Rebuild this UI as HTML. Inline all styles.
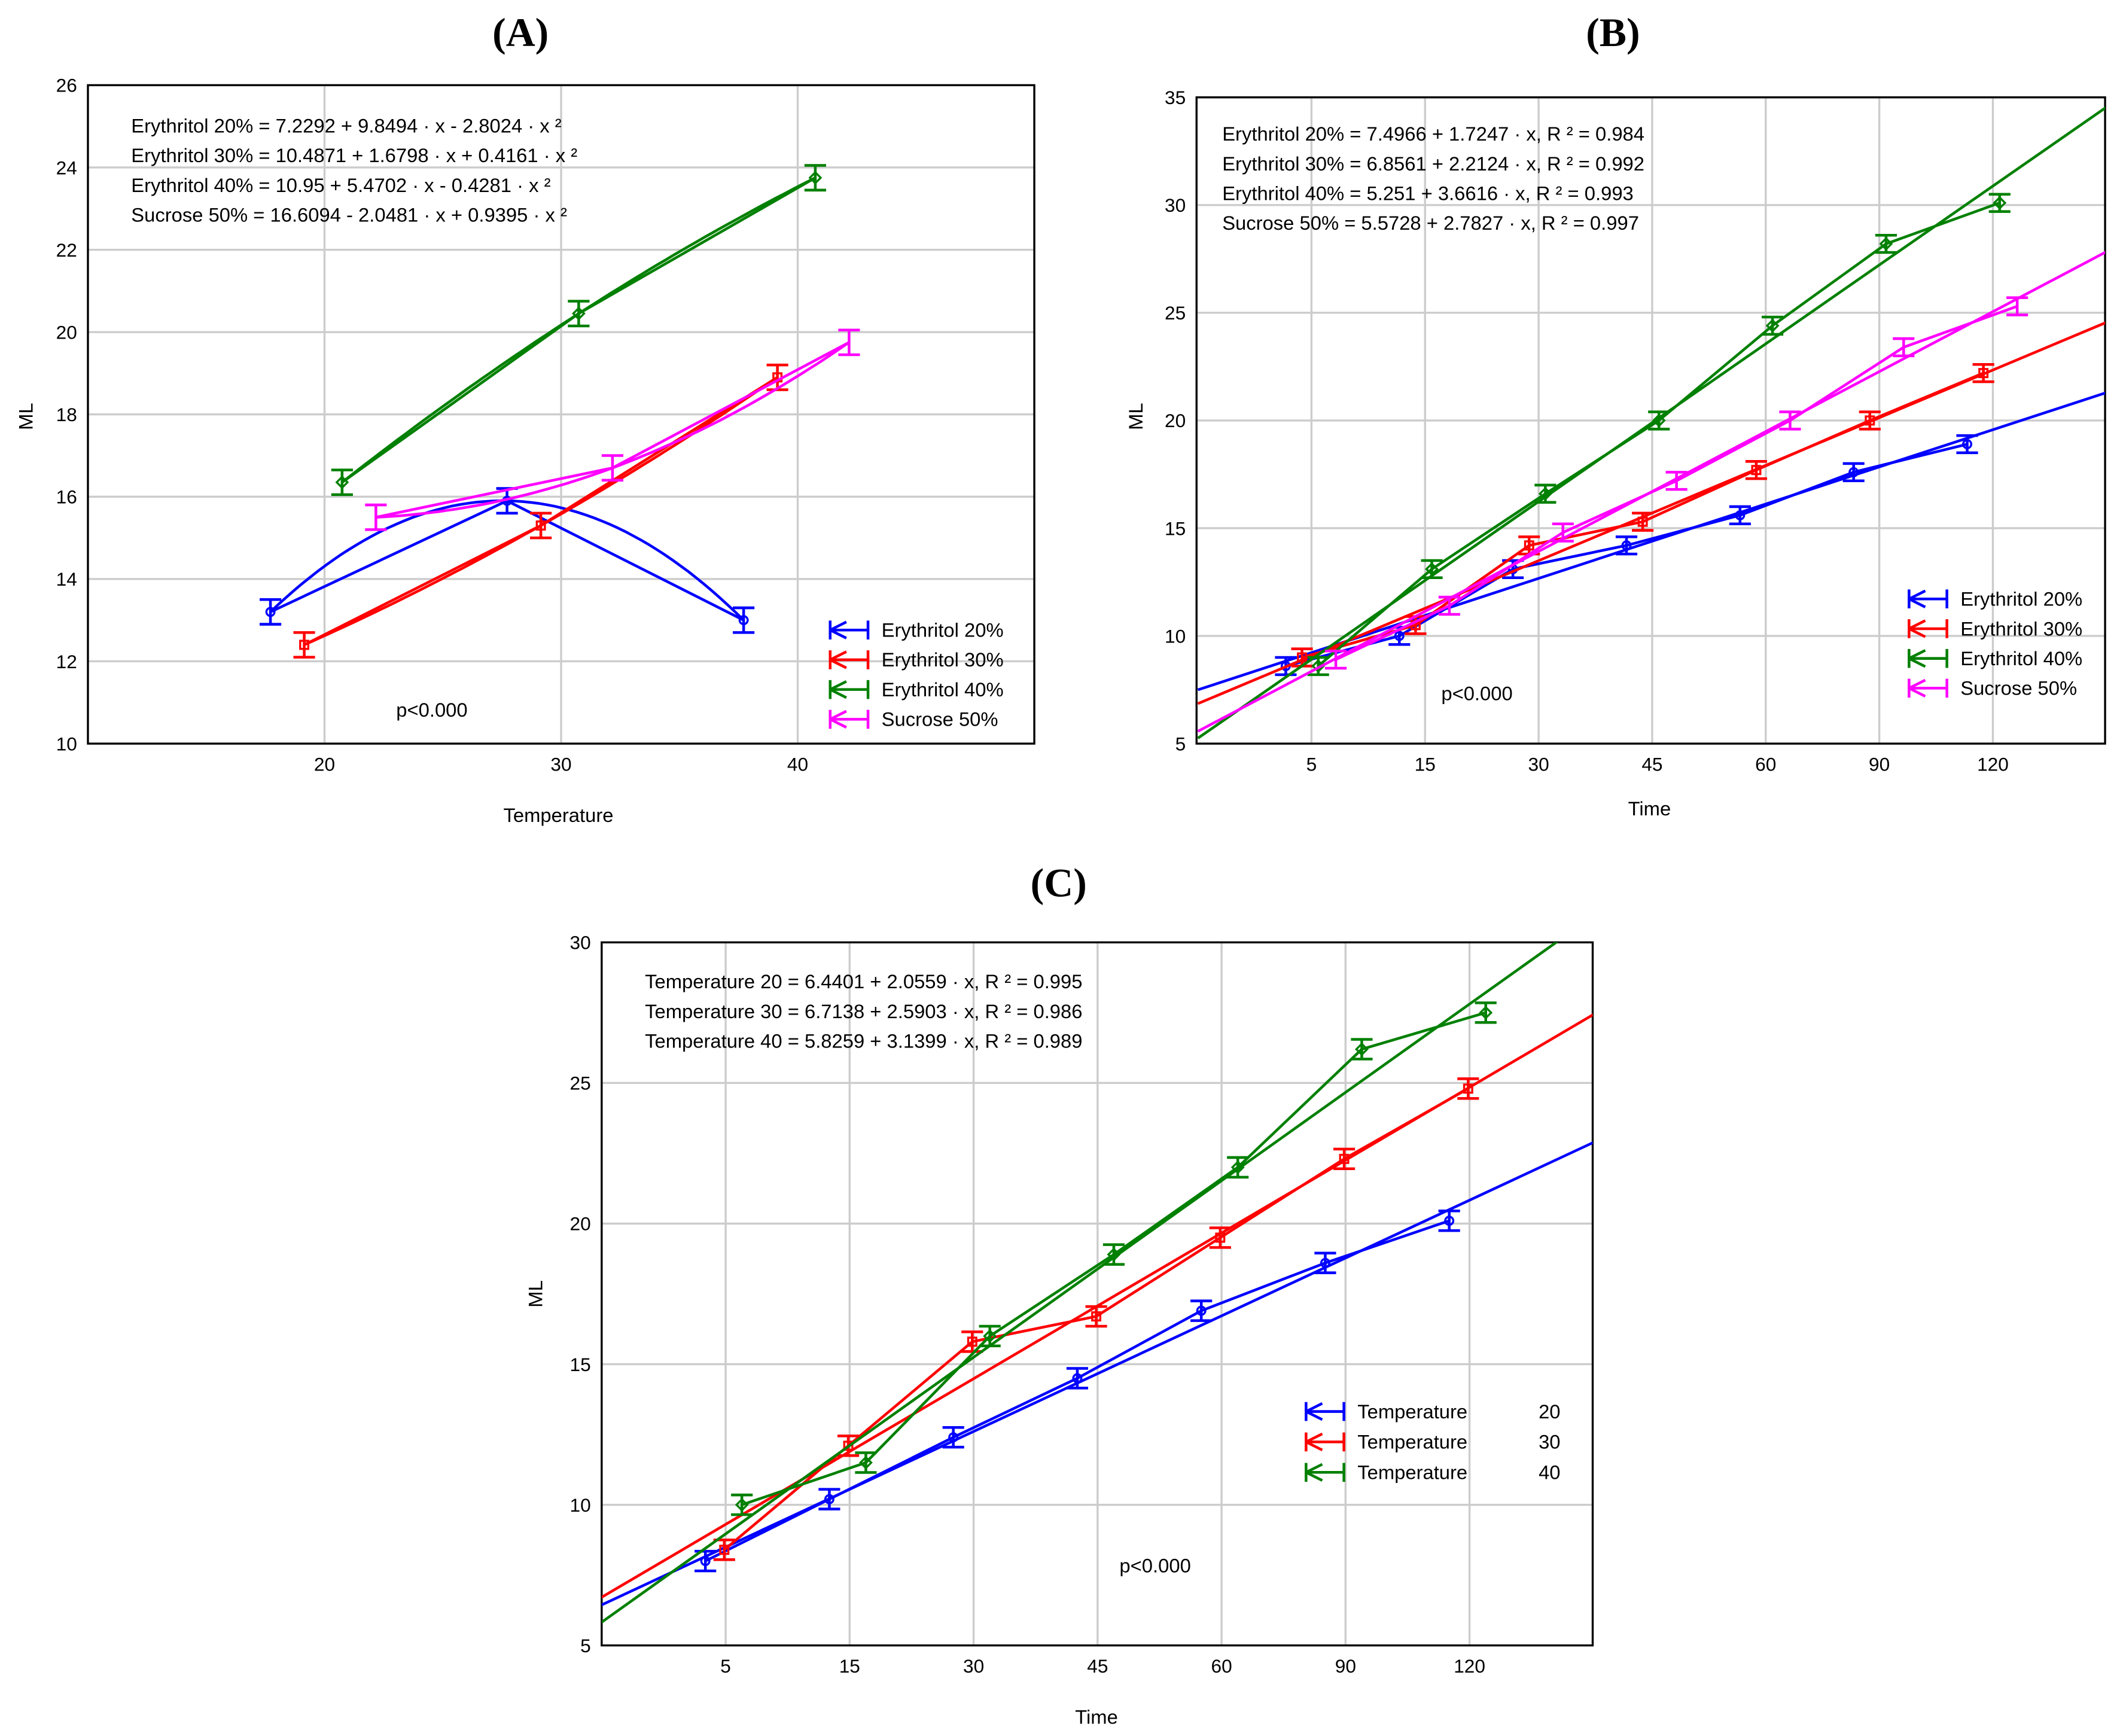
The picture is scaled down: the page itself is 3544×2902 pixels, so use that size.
<!DOCTYPE html>
<html><head><meta charset="utf-8"><style>
html,body{margin:0;padding:0;background:#fff}
svg{display:block}
text{font-family:"Liberation Sans",Arial,sans-serif;fill:#000}
</style></head><body>
<svg id="fig" width="3544" height="2902" viewBox="0 0 1568 1284" xmlns="http://www.w3.org/2000/svg"></svg>
<script>
// ---------- Panel A data ----------
const aTemps = [20, 30, 40];
const aTicksY = [10, 12, 14, 16, 18, 20, 22, 24, 26];
const aEry20 = [13.2, 15.9, 13.0];
const aEry30 = [12.4, 15.3, 18.9];
const aEry40 = [16.35, 20.45, 23.75];
const aSuc50 = [15.5, 16.7, 19.75];
const aEquations = ["Erythritol 20% = 7.2292 + 9.8494 · x - 2.8024 · x ²", "Erythritol 30% = 10.4871 + 1.6798 · x + 0.4161 · x ²", "Erythritol 40% = 10.95 + 5.4702 · x - 0.4281 · x ²", "Sucrose 50% = 16.6094 - 2.0481 · x + 0.9395 · x ²"];
// ---------- Panel B data ----------
const timeLabels = ["5", "15", "30", "45", "60", "90", "120"];
const bTicksY = [5, 10, 15, 20, 25, 30, 35];
const bEry20 = [8.6, 10.0, 13.1, 14.2, 15.6, 17.6, 18.9];
const bEry30 = [9.0, 10.5, 14.2, 15.3, 17.7, 20.0, 22.2];
const bEry40 = [8.6, 13.1, 16.6, 20.0, 24.4, 28.2, 30.1];
const bSuc50 = [8.9, 11.4, 14.8, 17.2, 20.0, 23.4, 25.3];
const bIntercepts = [7.4966, 6.8561, 5.251, 5.5728];
const bSlopes = [1.7247, 2.2124, 3.6616, 2.7827];
const bEquations = ["Erythritol 20% = 7.4966 + 1.7247 · x, R ² = 0.984", "Erythritol 30% = 6.8561 + 2.2124 · x, R ² = 0.992", "Erythritol 40% = 5.251 + 3.6616 · x, R ² = 0.993", "Sucrose 50% = 5.5728 + 2.7827 · x, R ² = 0.997"];
// ---------- Panel C data ----------
const cTicksY = [5, 10, 15, 20, 25, 30];
const cT20 = [8.0, 10.2, 12.4, 14.5, 16.9, 18.6, 20.1];
const cT30 = [8.4, 12.1, 15.8, 16.7, 19.5, 22.3, 24.8];
const cT40 = [10.0, 11.5, 16.0, 18.9, 22.0, 26.2, 27.5];
const cIntercepts = [6.4401, 6.7138, 5.8259];
const cSlopes = [2.0559, 2.5903, 3.1399];
const cEquations = ["Temperature 20 = 6.4401 + 2.0559 · x, R ² = 0.995", "Temperature 30 = 6.7138 + 2.5903 · x, R ² = 0.986", "Temperature 40 = 5.8259 + 3.1399 · x, R ² = 0.989"];

const NS = "http://www.w3.org/2000/svg";
const svg = document.getElementById('fig');
function mk(tag, attrs, parent, txt) {
  const e = document.createElementNS(NS, tag);
  for (const k in attrs) e.setAttribute(k, attrs[k]);
  if (txt !== undefined) e.textContent = txt;
  (parent || svg).appendChild(e);
  return e;
}
const COL = {blue:"#0000ff", red:"#ff0000", green:"#008000", mag:"#ff00ff"};

function marker(g, kind, x, y, c) {
  let m;
  if (kind === 'circle') m = mk('circle', {cx:x, cy:y, r:3, fill:'none', stroke:c, 'stroke-width':1.5}, g);
  else if (kind === 'square') m = mk('rect', {x:x-3, y:y-3, width:6, height:6, fill:'none', stroke:c, 'stroke-width':1.5}, g);
  else if (kind === 'diamond') m = mk('path', {d:`M${x} ${y-4}L${x+4} ${y}L${x} ${y+4}L${x-4} ${y}Z`, fill:'none', stroke:c, 'stroke-width':1.5}, g);
  else m = mk('line', {x1:x, y1:y-4, x2:x, y2:y+4, stroke:c, 'stroke-width':1.5}, g);
  
  
}
function errbar(g, x, y1, y2, c) {
  const p = mk('path', {d:`M${x-8} ${y1}H${x+8}M${x} ${y1}V${y2}M${x-8} ${y2}H${x+8}`, stroke:c, 'stroke-width':2, fill:'none'}, g);
  
  
}

function panel(cfg) {
  const g = mk('g', {}, svg);
  
  
  const {L, R, T, B, ymin, ymax} = cfg;
  const sy = v => B - (v - ymin) / (ymax - ymin) * (B - T);
  const cid = cfg.name + '-clip';
  const cp = mk('clipPath', {id:cid}, g);
  mk('rect', {x:L, y:T, width:R-L, height:B-T}, cp);
  // grid
  cfg.ticksY.forEach(v => {
    if (v > ymin && v < ymax) {
      const l = mk('line', {x1:L, x2:R, y1:sy(v), y2:sy(v), stroke:'#cccccc', 'stroke-width':1.5}, g);
      
      
    }
    const t = mk('text', {x:L-8, y:sy(v)+5, 'text-anchor':'end', 'font-size':14}, g, String(v));
    
    
  });
  cfg.xTicks.forEach((lab, i) => {
    const x = cfg.sx(cfg.xVals[i]);
    const l = mk('line', {x1:x, x2:x, y1:T, y2:B, stroke:'#cccccc', 'stroke-width':1.5}, g);
    
    
    const t = mk('text', {x:x, y:B+20, 'text-anchor':'middle', 'font-size':14}, g, lab);
    
    
  });
  const fr = mk('rect', {x:L, y:T, width:R-L, height:B-T, fill:'none', stroke:'#000', 'stroke-width':1.5}, g);
  
  
  const dg = mk('g', {'clip-path':`url(#${cid})`}, g);
  cfg.series.forEach(s => {
    const sg = mk('g', {}, dg);
    
    
    const pts = s.vals.map((v, i) => [cfg.sx(cfg.xVals[i]) + s.off, sy(v)]);
    // fit
    if (s.fit === 'quad') {
      const xs = pts.map(p => p[0]), ys = s.vals;
      let d = '';
      for (let k = 0; k <= 60; k++) {
        const x = xs[0] + (xs[2] - xs[0]) * k / 60;
        let y = 0;
        for (let i = 0; i < 3; i++) {
          let li = 1;
          for (let j = 0; j < 3; j++) if (j !== i) li *= (x - xs[j]) / (xs[i] - xs[j]);
          y += ys[i] * li;
        }
        d += (k ? 'L' : 'M') + x.toFixed(1) + ' ' + sy(y).toFixed(1);
      }
      const f = mk('path', {d, fill:'none', stroke:s.c, 'stroke-width':2}, sg);
      
      
    } else if (s.fit === 'lin') {
      const x0 = cfg.xMin, x1 = cfg.xMax;
      const f = mk('line', {x1:cfg.sx(x0), y1:sy(s.a + s.b*x0), x2:cfg.sx(x1), y2:sy(s.a + s.b*x1), stroke:s.c, 'stroke-width':2}, sg);
      
      
    }
    const pl = mk('polyline', {points:pts.map(p => p.join(',')).join(' '), fill:'none', stroke:s.c, 'stroke-width':2}, sg);
    
    
    s.vals.forEach((v, i) => {
      const x = pts[i][0];
      errbar(sg, x, sy(v + cfg.err), sy(v - cfg.err), s.c);
      marker(sg, s.m, x, sy(v), s.c);
    });
  });
  // equations
  cfg.eqs.forEach((e, i) => {
    const t = mk('text', {x:cfg.eqX, y:cfg.eqY + i*22, 'font-size':14.5}, g, e);
    
    
  });
  const p = mk('text', {x:cfg.pX, y:cfg.pY, 'font-size':14.5}, g, 'p<0.000');
  
  
  // legend
  const lg = mk('g', {}, g);
  
  
  cfg.series.forEach((s, i) => {
    const y = cfg.lgY + i * cfg.lgDy;
    const x0 = cfg.lgX, x1 = cfg.lgX + 28;
    mk('path', {d:`M${x0} ${y-7}V${y+7}M${x1} ${y-7}V${y+7}M${x0} ${y}H${x1}M${x0} ${y}L${x0+12} ${y-6}M${x0} ${y}L${x0+12} ${y+6}`, stroke:s.c, 'stroke-width':2, fill:'none'}, lg);
    const t = mk('text', {x:x1 + 10, y:y+5, 'font-size':14.5}, lg, s.label);
    
    
    if (s.num) {
      const n = mk('text', {x:cfg.lgNumX, y:y+5, 'font-size':14.5}, lg, s.num);
      
      
    }
  });
  const yl = mk('text', {x:cfg.ylX, y:cfg.ylY, 'font-size':14.5, 'text-anchor':'middle', transform:`rotate(-90 ${cfg.ylX} ${cfg.ylY})`}, g, 'ML');
  
  
  const xl = mk('text', {x:cfg.xlX, y:cfg.xlY, 'font-size':14.5, 'text-anchor':'middle'}, g, cfg.xTitle);
  
  
  const tt = mk('text', {x:cfg.tX, y:cfg.tY, 'font-size':30, 'font-weight':'bold', 'text-anchor':'middle', style:'font-family:"Liberation Serif",serif'}, g, cfg.title);
  
  
}

// Panel A
panel({name:'panel-a', L:65, R:765, T:63, B:550, ymin:10, ymax:26, ticksY:aTicksY,
  sx: v => 240 + (v - 20) * 17.5, xVals:aTemps, xTicks:aTemps.map(String), err:0.3,
  series:[
    {key:'ery20', vals:aEry20, c:COL.blue, off:-40, m:'circle', fit:'quad', label:'Erythritol 20%'},
    {key:'ery30', vals:aEry30, c:COL.red, off:-15, m:'square', fit:'quad', label:'Erythritol 30%'},
    {key:'ery40', vals:aEry40, c:COL.green, off:13, m:'diamond', fit:'quad', label:'Erythritol 40%'},
    {key:'suc50', vals:aSuc50, c:COL.mag, off:38, m:'bar', fit:'quad', label:'Sucrose 50%'}],
  eqs:aEquations, eqX:97, eqY:98, pX:293, pY:530, lgX:614, lgY:466, lgDy:22,
  ylX:24, ylY:308, xlX:413, xlY:608, xTitle:'Temperature', tX:385, tY:34, title:'(A)'});

// Panel B
const bIdx = timeLabels.map((_, i) => i + 1);
panel({name:'panel-b', L:885, R:1557, T:72, B:550, ymin:5, ymax:35, ticksY:bTicksY,
  sx: v => 886 + v * 84, xVals:bIdx, xTicks:timeLabels, xMin:0, xMax:8, err:0.4,
  series:[
    {key:'ery20', vals:bEry20, c:COL.blue, off:-19, m:'circle', fit:'lin', a:bIntercepts[0], b:bSlopes[0], label:'Erythritol 20%'},
    {key:'ery30', vals:bEry30, c:COL.red, off:-7, m:'square', fit:'lin', a:bIntercepts[1], b:bSlopes[1], label:'Erythritol 30%'},
    {key:'ery40', vals:bEry40, c:COL.green, off:5, m:'diamond', fit:'lin', a:bIntercepts[2], b:bSlopes[2], label:'Erythritol 40%'},
    {key:'suc50', vals:bSuc50, c:COL.mag, off:18, m:'bar', fit:'lin', a:bIntercepts[3], b:bSlopes[3], label:'Sucrose 50%'}],
  eqs:bEquations, eqX:904, eqY:104, pX:1066, pY:518, lgX:1412, lgY:443, lgDy:22,
  ylX:845, ylY:308, xlX:1220, xlY:603, xTitle:'Time', tX:1193, tY:34, title:'(B)'});

// Panel C
panel({name:'panel-c', L:445, R:1178, T:697, B:1217, ymin:5, ymax:30, ticksY:cTicksY,
  sx: v => 445 + v * 91.7, xVals:bIdx, xTicks:timeLabels, xMin:0, xMax:8, err:0.35,
  series:[
    {key:'t20', vals:cT20, c:COL.blue, off:-15, m:'circle', fit:'lin', a:cIntercepts[0], b:cSlopes[0], label:'Temperature', num:'20'},
    {key:'t30', vals:cT30, c:COL.red, off:-1, m:'square', fit:'lin', a:cIntercepts[1], b:cSlopes[1], label:'Temperature', num:'30'},
    {key:'t40', vals:cT40, c:COL.green, off:12, m:'diamond', fit:'lin', a:cIntercepts[2], b:cSlopes[2], label:'Temperature', num:'40'}],
  eqs:cEquations, eqX:477, eqY:731, pX:828, pY:1163, lgX:966, lgY:1044, lgDy:22.5, lgNumX:1138,
  ylX:401, ylY:957, xlX:811, xlY:1275, xTitle:'Time', tX:783, tY:663, title:'(C)'});
</script>
</body></html>
